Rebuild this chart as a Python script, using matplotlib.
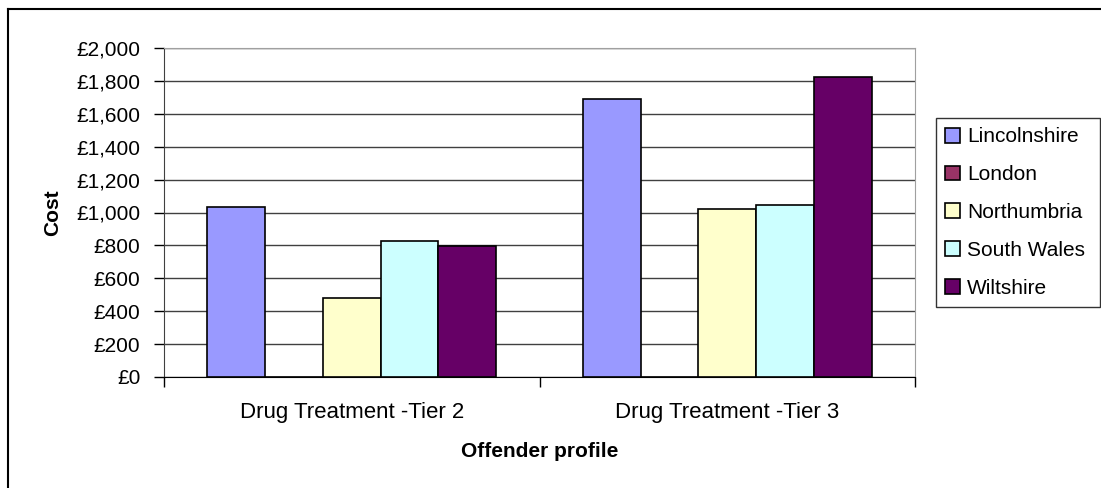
import numpy as np
import matplotlib.pyplot as plt
from matplotlib.lines import Line2D
from matplotlib.ticker import FuncFormatter

plt.rcParams['font.family'] = ['Liberation Sans', 'DejaVu Sans']

# Data
categories = ['Drug Treatment -Tier 2', 'Drug Treatment -Tier 3']
regions = ['Lincolnshire', 'London', 'Northumbria', 'South Wales', 'Wiltshire']
lincolnshire = [1035, 1690]
london = [0, 0]
northumbria = [478, 1021]
south_wales = [827, 1046]
wiltshire = [796, 1826]
colors = ['#9999FF', '#993366', '#FFFFCC', '#CCFFFF', '#660066']

series = [lincolnshire, london, northumbria, south_wales, wiltshire]

W, H = 1101, 488
fig = plt.figure(figsize=(W / 100, H / 100), dpi=100)
ax = fig.add_axes([164 / W, 1 - 377 / H, (915 - 164) / W, (377 - 48) / H])

x = np.arange(len(categories))
bw = 1 / 6.5
for i, (name, vals) in enumerate(zip(regions, series)):
    ax.bar(x + (i - 2) * bw, vals, width=bw, color=colors[i],
           edgecolor='black', linewidth=1.2, label=name, zorder=3)

ax.set_xlim(-0.5, 1.5)
ax.set_ylim(0, 2000)
ax.set_yticks(np.arange(0, 2001, 200))
ax.yaxis.set_major_formatter(FuncFormatter(lambda v, p: f'£{int(v):,}'))
ax.grid(axis='y', color='#404040', linewidth=1, zorder=0)
ax.set_axisbelow(True)

# category boundary ticks
ax.set_xticks([-0.5, 0.5, 1.5])
ax.set_xticklabels([])
ax.set_xticks(x, minor=True)
ax.set_xticklabels(categories, minor=True, fontsize=16)
ax.tick_params(axis='x', which='minor', length=0, pad=18)
ax.tick_params(axis='x', which='major', length=7, width=1, direction='out')
ax.tick_params(axis='y', length=7, width=1, labelsize=15, pad=10)

for s in ['top', 'right']:
    ax.spines[s].set_color('#a0a0a0')
ax.spines['left'].set_color('#404040')
ax.spines['bottom'].set_color('black')

ax.set_ylabel('Cost', fontsize=15, fontweight='bold', labelpad=10)
ax.set_xlabel('Offender profile', fontsize=15, fontweight='bold', labelpad=14)

leg = ax.legend(loc='center left',
                bbox_to_anchor=(936 / W, 1 - 306 / H, (1100 - 936) / W, (306 - 119) / H),
                bbox_transform=fig.transFigure, mode='expand', fontsize=15, frameon=True,
                fancybox=False, handlelength=0.7, handleheight=0.7, handletextpad=0.35,
                labelspacing=0.9, borderpad=0.45, borderaxespad=0)
leg.get_frame().set_edgecolor('black')
leg.get_frame().set_linewidth(1)

# outer chart border (top and left visible)
fig.add_artist(Line2D([8 / W, 1], [1 - 9 / H, 1 - 9 / H], color='black', lw=1.5, transform=fig.transFigure))
fig.add_artist(Line2D([8 / W, 8 / W], [0, 1 - 9 / H], color='black', lw=1.5, transform=fig.transFigure))

fig.savefig('out.png', dpi=100)
